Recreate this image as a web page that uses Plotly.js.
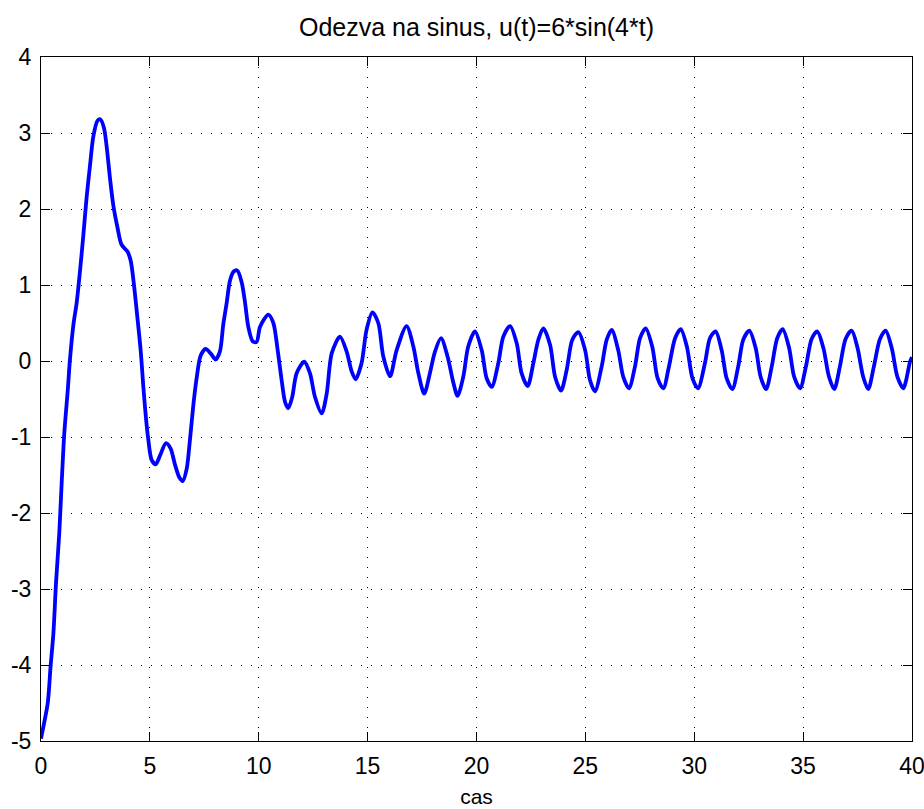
<!DOCTYPE html>
<html>
<head>
<meta charset="utf-8">
<script src="https://cdn.plot.ly/plotly-3.0.1.min.js"></script>
<style>html,body{margin:0;padding:0;background:#fff;}#chart{width:924px;height:809px;}</style>
</head>
<body>
<div id="chart"></div>
<script>
// time values (cas)
const timeValues = [
  0, 0.11, 0.31, 0.44, 0.57, 0.69, 0.84, 0.95, 1.07, 1.23, 1.33, 1.49, 1.64, 1.79, 1.94, 2.10, 2.25, 2.40, 2.59, 2.72, 2.89, 3.02,
  3.17, 3.32, 3.51, 3.70, 3.97, 4.12, 4.27, 4.42, 4.58, 4.70, 4.82, 4.93, 5.08, 5.27, 5.47, 5.74, 5.95, 6.15, 6.35, 6.51,
  6.69, 6.84, 7.00, 7.15, 7.33, 7.56, 7.79, 8.02, 8.22, 8.37, 8.53, 8.68, 8.86, 9.02, 9.22, 9.37, 9.52, 9.72, 9.90,
  10.06, 10.44, 10.67, 10.87, 11.05, 11.21, 11.36, 11.54, 11.74, 12.09, 12.35, 12.58, 12.89, 13.12, 13.35, 13.73, 14.04,
  14.27, 14.45, 14.72, 14.95, 15.22, 15.49, 15.72, 16.03, 16.33, 16.79, 17.10, 17.33, 17.60, 17.86, 18.09, 18.37, 18.67,
  18.94, 19.13, 19.39, 19.62, 19.93,
  20.24, 20.47, 20.70, 21.00, 21.23, 21.54, 21.85, 22.07, 22.35, 22.61, 22.84, 23.07, 23.38, 23.61, 23.88, 24.14, 24.40,
  24.68, 24.99, 25.21, 25.44, 25.75, 25.98, 26.21, 26.51, 26.74, 27.00, 27.28, 27.51, 27.77, 28.07, 28.32, 28.58, 28.84,
  29.12, 29.38, 29.66, 29.92, 30.17,
  30.49, 30.72, 30.98, 31.26, 31.49, 31.75, 32.02, 32.25, 32.53, 32.82, 33.05, 33.30, 33.56, 33.81, 34.06, 34.35, 34.59,
  34.86, 35.13, 35.39, 35.65, 35.93, 36.19, 36.43, 36.69, 36.95, 37.23, 37.50, 37.76, 37.99, 38.25, 38.53, 38.79, 39.07,
  39.33, 39.60, 39.91, 40.00
];
// response values
const responseValues = [
  -4.97, -4.81, -4.50, -4.02, -3.58, -2.92, -2.26, -1.60, -0.95, -0.38, 0.02, 0.48, 0.77, 1.18, 1.64, 2.17, 2.57, 2.95, 3.16, 3.18, 3.07, 2.81,
  2.40, 2.05, 1.76, 1.53, 1.44, 1.32, 1.00, 0.59, 0.13, -0.34, -0.75, -1.04, -1.30, -1.36, -1.24, -1.08, -1.15, -1.36, -1.53, -1.58,
  -1.42, -1.04, -0.57, -0.22, 0.07, 0.16, 0.10, 0.02, 0.13, 0.48, 0.77, 1.06, 1.18, 1.19, 1.03, 0.77, 0.45, 0.26, 0.25,
  0.45, 0.61, 0.50, 0.14, -0.25, -0.54, -0.62, -0.47, -0.16, -0.01, -0.16, -0.47, -0.69, -0.43, 0.10, 0.32, 0.12,
  -0.14, -0.24, -0.03, 0.41, 0.64, 0.50, 0.06, -0.20, 0.14, 0.46, 0.19, -0.16, -0.43, -0.16, 0.12, 0.30, 0.06,
  -0.29, -0.46, -0.21, 0.19, 0.39,
  0.14, -0.23, -0.34, -0.03, 0.32, 0.46, 0.23, -0.16, -0.33, -0.03, 0.28, 0.43, 0.21, -0.21, -0.39, -0.12, 0.28,
  0.38, 0.14, -0.25, -0.40, -0.07, 0.28, 0.41, 0.14, -0.21, -0.36, -0.07, 0.30, 0.43, 0.19, -0.23, -0.36, -0.07,
  0.30, 0.42, 0.19, -0.23, -0.36,
  -0.03, 0.30, 0.39, 0.14, -0.23, -0.37, -0.07, 0.28, 0.40, 0.17, -0.21, -0.37, -0.07, 0.30, 0.42, 0.18, -0.21,
  -0.36, -0.07, 0.29, 0.39, 0.17, -0.21, -0.37, -0.07, 0.29, 0.40, 0.17, -0.21, -0.37, -0.07, 0.29, 0.40, 0.17,
  -0.21, -0.36, -0.01, 0.05
];
const xTicks = [0, 5, 10, 15, 20, 25, 30, 35, 40];
const yTicks = [-5, -4, -3, -2, -1, 0, 1, 2, 3, 4];
const titleText = 'Odezva na sinus, u(t)=6*sin(4*t)';
const xTitleText = 'cas';

const fontFamily = 'Liberation Sans, Arial, sans-serif';

const trace = {
  x: timeValues,
  y: responseValues,
  type: 'scatter',
  mode: 'lines',
  line: {color: '#0000ff', width: 3.8, shape: 'spline', smoothing: 0.8},
  hoverinfo: 'skip'
};

const axisCommon = {
  showline: true,
  linecolor: '#000',
  linewidth: 1,
  mirror: 'ticks',
  ticks: 'inside',
  ticklen: 9,
  tickwidth: 1,
  tickcolor: '#000',
  showgrid: true,
  gridcolor: '#000',
  gridwidth: 1,
  griddash: '1px,9px',
  zeroline: false,
  ticklabeloverflow: 'allow',
  tickfont: {family: fontFamily, size: 23, color: '#000'}
};

const layout = {
  width: 924,
  height: 809,
  paper_bgcolor: '#fff',
  plot_bgcolor: '#fff',
  showlegend: false,
  margin: {l: 41, r: 12, t: 57, b: 68},
  title: {
    text: titleText,
    font: {family: fontFamily, size: 25, color: '#000'},
    x: 0.5, xref: 'paper', xanchor: 'center',
    y: 1 - 27 / 809, yref: 'container', yanchor: 'middle'
  },
  xaxis: Object.assign({}, axisCommon, {
    range: [0, 40],
    tickvals: xTicks,
    ticktext: xTicks.map(String),
    ticklabelstandoff: 4,
    title: {text: xTitleText, font: {family: fontFamily, size: 21, color: '#000'}, standoff: 11}
  }),
  yaxis: Object.assign({}, axisCommon, {
    range: [-5, 4],
    tickvals: yTicks,
    ticktext: yTicks.map(String),
    ticklabelstandoff: 4
  })
};

Plotly.newPlot('chart', [trace], layout, {displayModeBar: false, staticPlot: true});
</script>
</body>
</html>
